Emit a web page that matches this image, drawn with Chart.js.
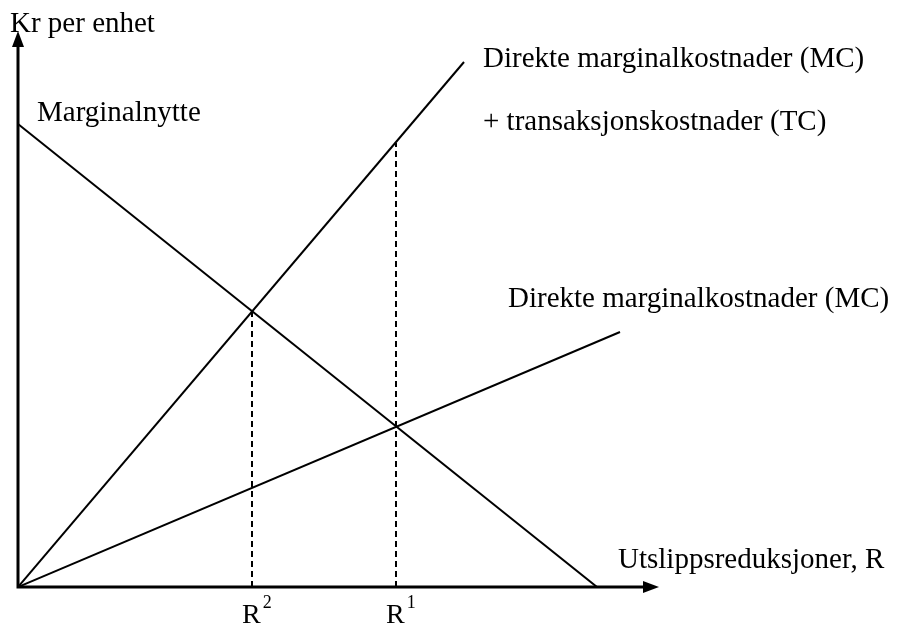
<!DOCTYPE html>
<html>
<head>
<meta charset="utf-8">
<script src="https://cdn.jsdelivr.net/npm/chart.js@4.4.0/dist/chart.umd.min.js"></script>
<style>
  html, body { margin: 0; padding: 0; background: #fff; }
  #chart { display: block; }
</style>
</head>
<body>
<canvas id="chart" width="897" height="628"></canvas>
<script>
// curves, as (R, kr) points
var nytteX = [0, 579];
var nytteY = [463, 0];
var mcTcX = [0, 446];
var mcTcY = [0, 525];
var mcX = [0, 602];
var mcY = [0, 255];
// R1 / R2 and the height the dashed line reaches
var rNames = ['R', 'R'];
var rSup = ['2', '1'];
var rX = [234, 378];
var rTop = [276, 444];

var FONT = '"Liberation Serif", "Times New Roman", serif';

function pts(xs, ys) {
  return xs.map(function (x, i) { return { x: x, y: ys[i] }; });
}

var lineStyle = { borderColor: '#000', borderWidth: 2, pointRadius: 0, showLine: true, fill: false };

var datasets = [
  Object.assign({ label: 'Marginalnytte', data: pts(nytteX, nytteY) }, lineStyle),
  Object.assign({ label: 'MC + TC', data: pts(mcTcX, mcTcY) }, lineStyle),
  Object.assign({ label: 'MC', data: pts(mcX, mcY) }, lineStyle)
];
rX.forEach(function (x, i) {
  datasets.push(Object.assign({ label: rNames[i] + rSup[i], data: [{ x: x, y: 0 }, { x: x, y: rTop[i] }] },
    lineStyle, { borderDash: [6, 4], borderCapStyle: 'butt' }));
});

// text labels: [text, R, kr]
var labels = [
  ['Kr per enhet', -8, 555],
  ['Marginalnytte', 19, 466],
  ['Direkte marginalkostnader (MC)', 465, 520],
  ['+ transaksjonskostnader (TC)', 465, 457],
  ['Direkte marginalkostnader (MC)', 490, 280],
  ['Utslippsreduksjoner, R', 600, 19]
];

var axesPlugin = {
  id: 'axes',
  afterDatasetsDraw: function (chart) {
    var c = chart.ctx, a = chart.chartArea;
    var xs = chart.scales.x, ys = chart.scales.y;
    c.save();
    c.strokeStyle = '#000';
    c.fillStyle = '#000';
    c.lineWidth = 3;
    c.beginPath();
    c.moveTo(a.left, a.top + 14);
    c.lineTo(a.left, a.bottom);
    c.lineTo(a.right - 14, a.bottom);
    c.stroke();
    // arrow heads
    c.beginPath();
    c.moveTo(a.left, a.top);
    c.lineTo(a.left - 6, a.top + 16);
    c.lineTo(a.left + 6, a.top + 16);
    c.closePath();
    c.fill();
    c.beginPath();
    c.moveTo(a.right, a.bottom);
    c.lineTo(a.right - 16, a.bottom - 6);
    c.lineTo(a.right - 16, a.bottom + 6);
    c.closePath();
    c.fill();

    c.textBaseline = 'alphabetic';
    c.textAlign = 'left';
    c.font = '29px ' + FONT;
    labels.forEach(function (l) {
      c.fillText(l[0], xs.getPixelForValue(l[1]), ys.getPixelForValue(l[2]));
    });
    // R labels under the axis
    rX.forEach(function (x, i) {
      var px = xs.getPixelForValue(x);
      c.font = '28px ' + FONT;
      var w = c.measureText(rNames[i]).width;
      c.fillText(rNames[i], px - 10, a.bottom + 36);
      c.font = '18px ' + FONT;
      c.fillText(rSup[i], px - 10 + w + 2, a.bottom + 21);
    });
    c.restore();
  }
};

new Chart(document.getElementById('chart'), {
  type: 'scatter',
  data: { datasets: datasets },
  options: {
    responsive: false,
    animation: false,
    layout: { padding: { left: 18, top: 31, right: 238, bottom: 41 } },
    plugins: { legend: { display: false }, tooltip: { enabled: false } },
    scales: {
      x: { type: 'linear', min: 0, max: 641, display: false },
      y: { type: 'linear', min: 0, max: 556, display: false }
    }
  },
  plugins: [axesPlugin]
});
</script>
</body>
</html>
